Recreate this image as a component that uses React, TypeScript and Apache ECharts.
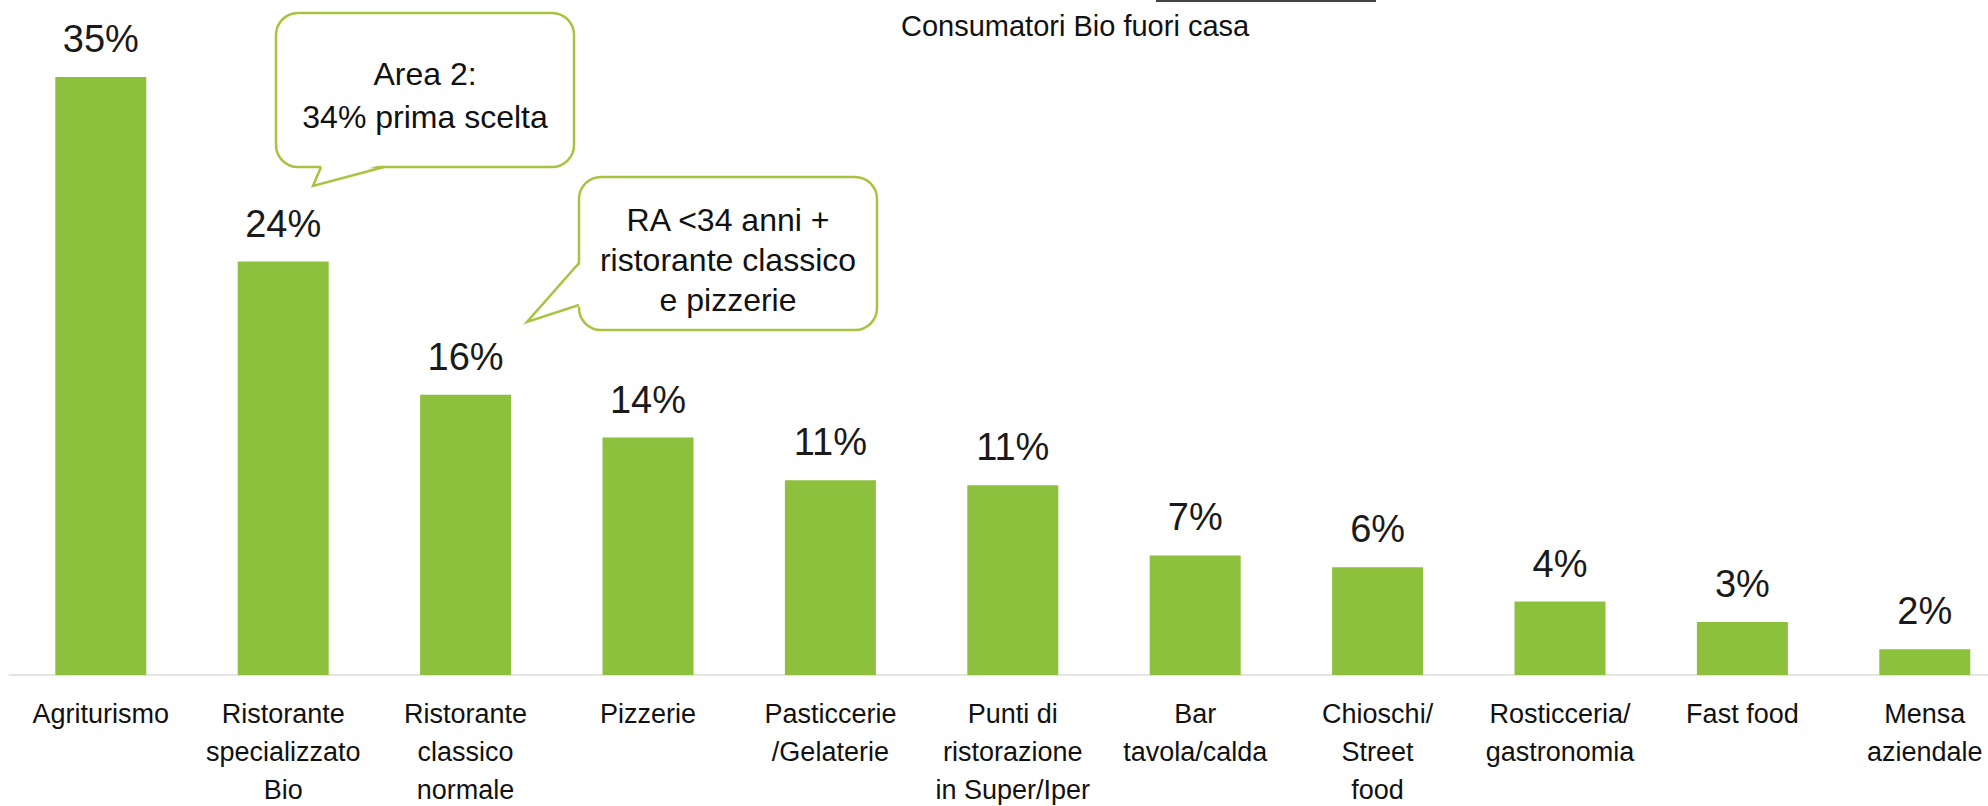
import React, { useEffect, useRef } from "react";
import * as echarts from "echarts";

const categories = [
  "Agriturismo",
  "Ristorante\nspecializzato\nBio",
  "Ristorante\nclassico\nnormale",
  "Pizzerie",
  "Pasticcerie\n/Gelaterie",
  "Punti di\nristorazione\nin Super/Iper",
  "Bar\ntavola/calda",
  "Chioschi/\nStreet\nfood",
  "Rosticceria/\ngastronomia",
  "Fast food",
  "Mensa\naziendale",
];
const shares = [35, 24.2, 16.4, 13.9, 11.4, 11.1, 7.0, 6.3, 4.3, 3.1, 1.5];

const chartTitle = "Consumatori Bio fuori casa";
const callout1Text = "Area 2:\n34% prima scelta";
const callout2Text = "RA <34 anni +\nristorante classico\ne pizzerie";

const FONT = "'Liberation Sans', Arial, sans-serif";
const GREEN = "#8DC03C";
const BORDER = "#A7C441";

export default function App() {
  const ref = useRef<HTMLDivElement>(null);
  useEffect(() => {
    document.body.style.margin = "0";
    if (!ref.current) return;
    const chart = echarts.init(ref.current, null, { renderer: "svg" });
    chart.setOption({
      animation: false,
      backgroundColor: "#ffffff",
      title: {
        text: chartTitle,
        left: 896,
        top: 6,
        textStyle: { fontFamily: FONT, fontSize: 29, fontWeight: "normal", color: "#111", lineHeight: 30 },
      },
      grid: {
        left: 9.6,
        width: 2006.4,
        top: 77,
        bottom: 131,
        containLabel: false,
        outerBoundsMode: "none",
      },
      xAxis: {
        type: "category",
        data: categories,
        axisLine: { show: true, lineStyle: { color: "#e4e4e4", width: 2 } },
        axisTick: { show: false },
        axisLabel: {
          interval: 0,
          margin: 20,
          fontFamily: FONT,
          fontSize: 27,
          lineHeight: 38,
          color: "#111",
          verticalAlign: "top",
        },
      },
      yAxis: { type: "value", min: 0, max: 35, show: false, splitLine: { show: false } },
      series: [
        {
          type: "bar",
          data: shares,
          barWidth: 91,
          itemStyle: { color: GREEN },
          label: {
            show: true,
            position: "top",
            distance: 19,
            fontFamily: FONT,
            fontSize: 38,
            lineHeight: 38,
            color: "#1a1a1a",
            formatter: (p: any) => Math.round(p.value) + "%",
          },
        },
      ],
      graphic: [
        { type: "line", shape: { x1: 1156, y1: 1, x2: 1376, y2: 1 }, style: { stroke: "#444", lineWidth: 2 } },
        {
          type: "rect",
          shape: { x: 276, y: 13, width: 298, height: 154, r: 22 },
          style: { fill: "#fff", stroke: BORDER, lineWidth: 2.5 },
        },
        {
          type: "polygon",
          shape: { points: [[322, 164], [313, 186], [383, 164]] },
          style: { fill: "#fff", stroke: "none" },
        },
        {
          type: "polyline",
          shape: { points: [[321, 167], [313, 186], [384, 167]] },
          style: { fill: "none", stroke: BORDER, lineWidth: 2.5 },
        },
        {
          type: "text",
          x: 425,
          y: 95,
          style: {
            text: callout1Text,
            fontFamily: FONT,
            fontSize: 32,
            lineHeight: 43,
            fill: "#111",
            align: "center",
            verticalAlign: "middle",
          },
        },
        {
          type: "rect",
          shape: { x: 579, y: 177, width: 298, height: 153, r: 22 },
          style: { fill: "#fff", stroke: BORDER, lineWidth: 2.5 },
        },
        {
          type: "polygon",
          shape: { points: [[582, 262], [527, 322], [582, 306]] },
          style: { fill: "#fff", stroke: "none" },
        },
        {
          type: "polyline",
          shape: { points: [[579, 263], [527, 322], [579, 305]] },
          style: { fill: "none", stroke: BORDER, lineWidth: 2.5 },
        },
        {
          type: "text",
          x: 728,
          y: 260,
          style: {
            text: callout2Text,
            fontFamily: FONT,
            fontSize: 32,
            lineHeight: 40,
            fill: "#111",
            align: "center",
            verticalAlign: "middle",
          },
        },
      ],
    });
    return () => chart.dispose();
  }, []);
  return <div ref={ref} style={{ width: 1988, height: 806 }} />;
}
